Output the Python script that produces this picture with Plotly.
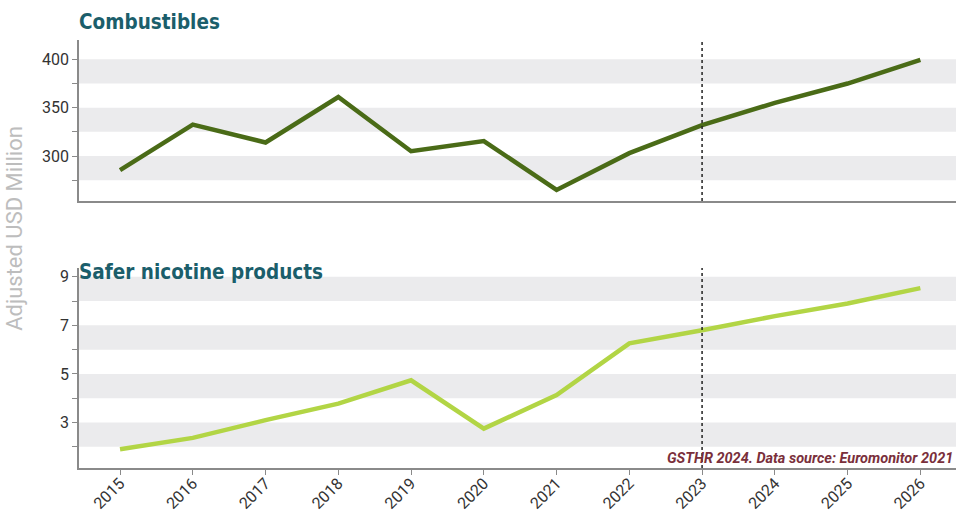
import plotly.graph_objects as go
from plotly.subplots import make_subplots

years = [2015, 2016, 2017, 2018, 2019, 2020, 2021, 2022, 2023, 2024, 2025, 2026]
combustibles = [285.5, 332.5, 314, 361, 305, 315.5, 265, 303, 332, 355, 375, 399.5]
safer_nicotine = [1.9, 2.37, 3.1, 3.78, 4.74, 2.75, 4.13, 6.26, 6.8, 7.38, 7.9, 8.53]

top_bands = [(275, 300), (325, 350), (375, 400)]
bottom_bands = [(2, 3), (4, 5), (6, 7), (8, 9)]
forecast_start = 2023

fig = make_subplots(rows=2, cols=1, vertical_spacing=0.05)

fig.add_trace(go.Scatter(x=years, y=combustibles, mode="lines",
                         line=dict(color="#4a6b17", width=4.5), showlegend=False),
              row=1, col=1)
fig.add_trace(go.Scatter(x=years, y=safer_nicotine, mode="lines",
                         line=dict(color="#b2d545", width=4.5), showlegend=False),
              row=2, col=1)

band_color = "#ebebed"
for lo, hi in top_bands:
    fig.add_shape(type="rect", xref="x domain", yref="y", x0=0, x1=1, y0=lo, y1=hi,
                  fillcolor=band_color, line_width=0, layer="below")
for lo, hi in bottom_bands:
    fig.add_shape(type="rect", xref="x2 domain", yref="y2", x0=0, x1=1, y0=lo, y1=hi,
                  fillcolor=band_color, line_width=0, layer="below")

for xr, yr in (("x", "y domain"), ("x2", "y2 domain")):
    fig.add_shape(type="line", xref=xr, yref=yr, x0=forecast_start, x1=forecast_start,
                  y0=0, y1=1, line=dict(color="#222", width=1.5, dash="dot"))

xrange = [2014.436, 2026.49]
axis_common = dict(showline=True, linecolor="#8a8a8a", linewidth=1.5, showgrid=False,
                   zeroline=False, ticks="outside", tickcolor="#8a8a8a", ticklen=5,
                   automargin=False,
                   tickfont=dict(family="Roboto, Arial, sans-serif", size=16, color="#333"))

fig.update_xaxes(range=xrange, tickvals=years, showticklabels=False, ticks="",
                 showline=True, linecolor="#8a8a8a", linewidth=1.5, showgrid=False,
                 zeroline=False, automargin=False, row=1, col=1)
fig.update_xaxes(range=xrange, tickvals=years, ticktext=[str(y) for y in years],
                 tickangle=-45, ticklabelstandoff=-7, row=2, col=1, **axis_common)
fig.update_yaxes(range=[253.5, 420], tickvals=[275, 300, 325, 350, 375, 400],
                 ticktext=["", "300", "", "350", "", "400"], row=1, col=1, **axis_common)
fig.update_yaxes(range=[1.13, 9.36], tickvals=[2, 3, 4, 5, 6, 7, 8, 9],
                 ticktext=["", "3", "", "5", "", "7", "", "9"], row=2, col=1, **axis_common)

fig.update_layout(
    xaxis=dict(domain=[0, 1]), xaxis2=dict(domain=[0, 1]),
    yaxis=dict(domain=[0.6238, 1]), yaxis2=dict(domain=[0, 0.4673]),
)

title_font = dict(family="DejaVu Sans Condensed, sans-serif", weight="bold",
                  size=20.5, color="#1b5e6b")
fig.add_annotation(text="Combustibles", xref="paper", yref="paper", x=0, y=1.0,
                   xanchor="left", yanchor="bottom", yshift=4, xshift=-2,
                   showarrow=False, font=title_font)
fig.add_annotation(text="Safer nicotine products", xref="paper", yref="paper",
                   x=0, y=0.4673, xanchor="left", yanchor="bottom", yshift=-18, xshift=-2,
                   showarrow=False, font=title_font)
fig.add_annotation(text="Adjusted USD Million", xref="paper", yref="paper",
                   x=-0.0735, y=0.56, textangle=-90, showarrow=False,
                   xanchor="center", yanchor="middle",
                   font=dict(family="Roboto, Arial, sans-serif", size=22, color="#bdbdbd"))
fig.add_annotation(text="<b><i>GSTHR 2024. Data source: Euromonitor 2021</i></b>",
                   xref="paper", yref="paper", x=1.0, y=0, xanchor="right",
                   yanchor="bottom", yshift=-1, xshift=-1, showarrow=False,
                   font=dict(family="Roboto, Arial, sans-serif", size=14.5, color="#7a2f3b"))

fig.update_layout(
    width=957, height=513,
    margin=dict(l=79, r=1, t=40, b=45),
    plot_bgcolor="white", paper_bgcolor="white",
)

fig.write_html("out.html")
